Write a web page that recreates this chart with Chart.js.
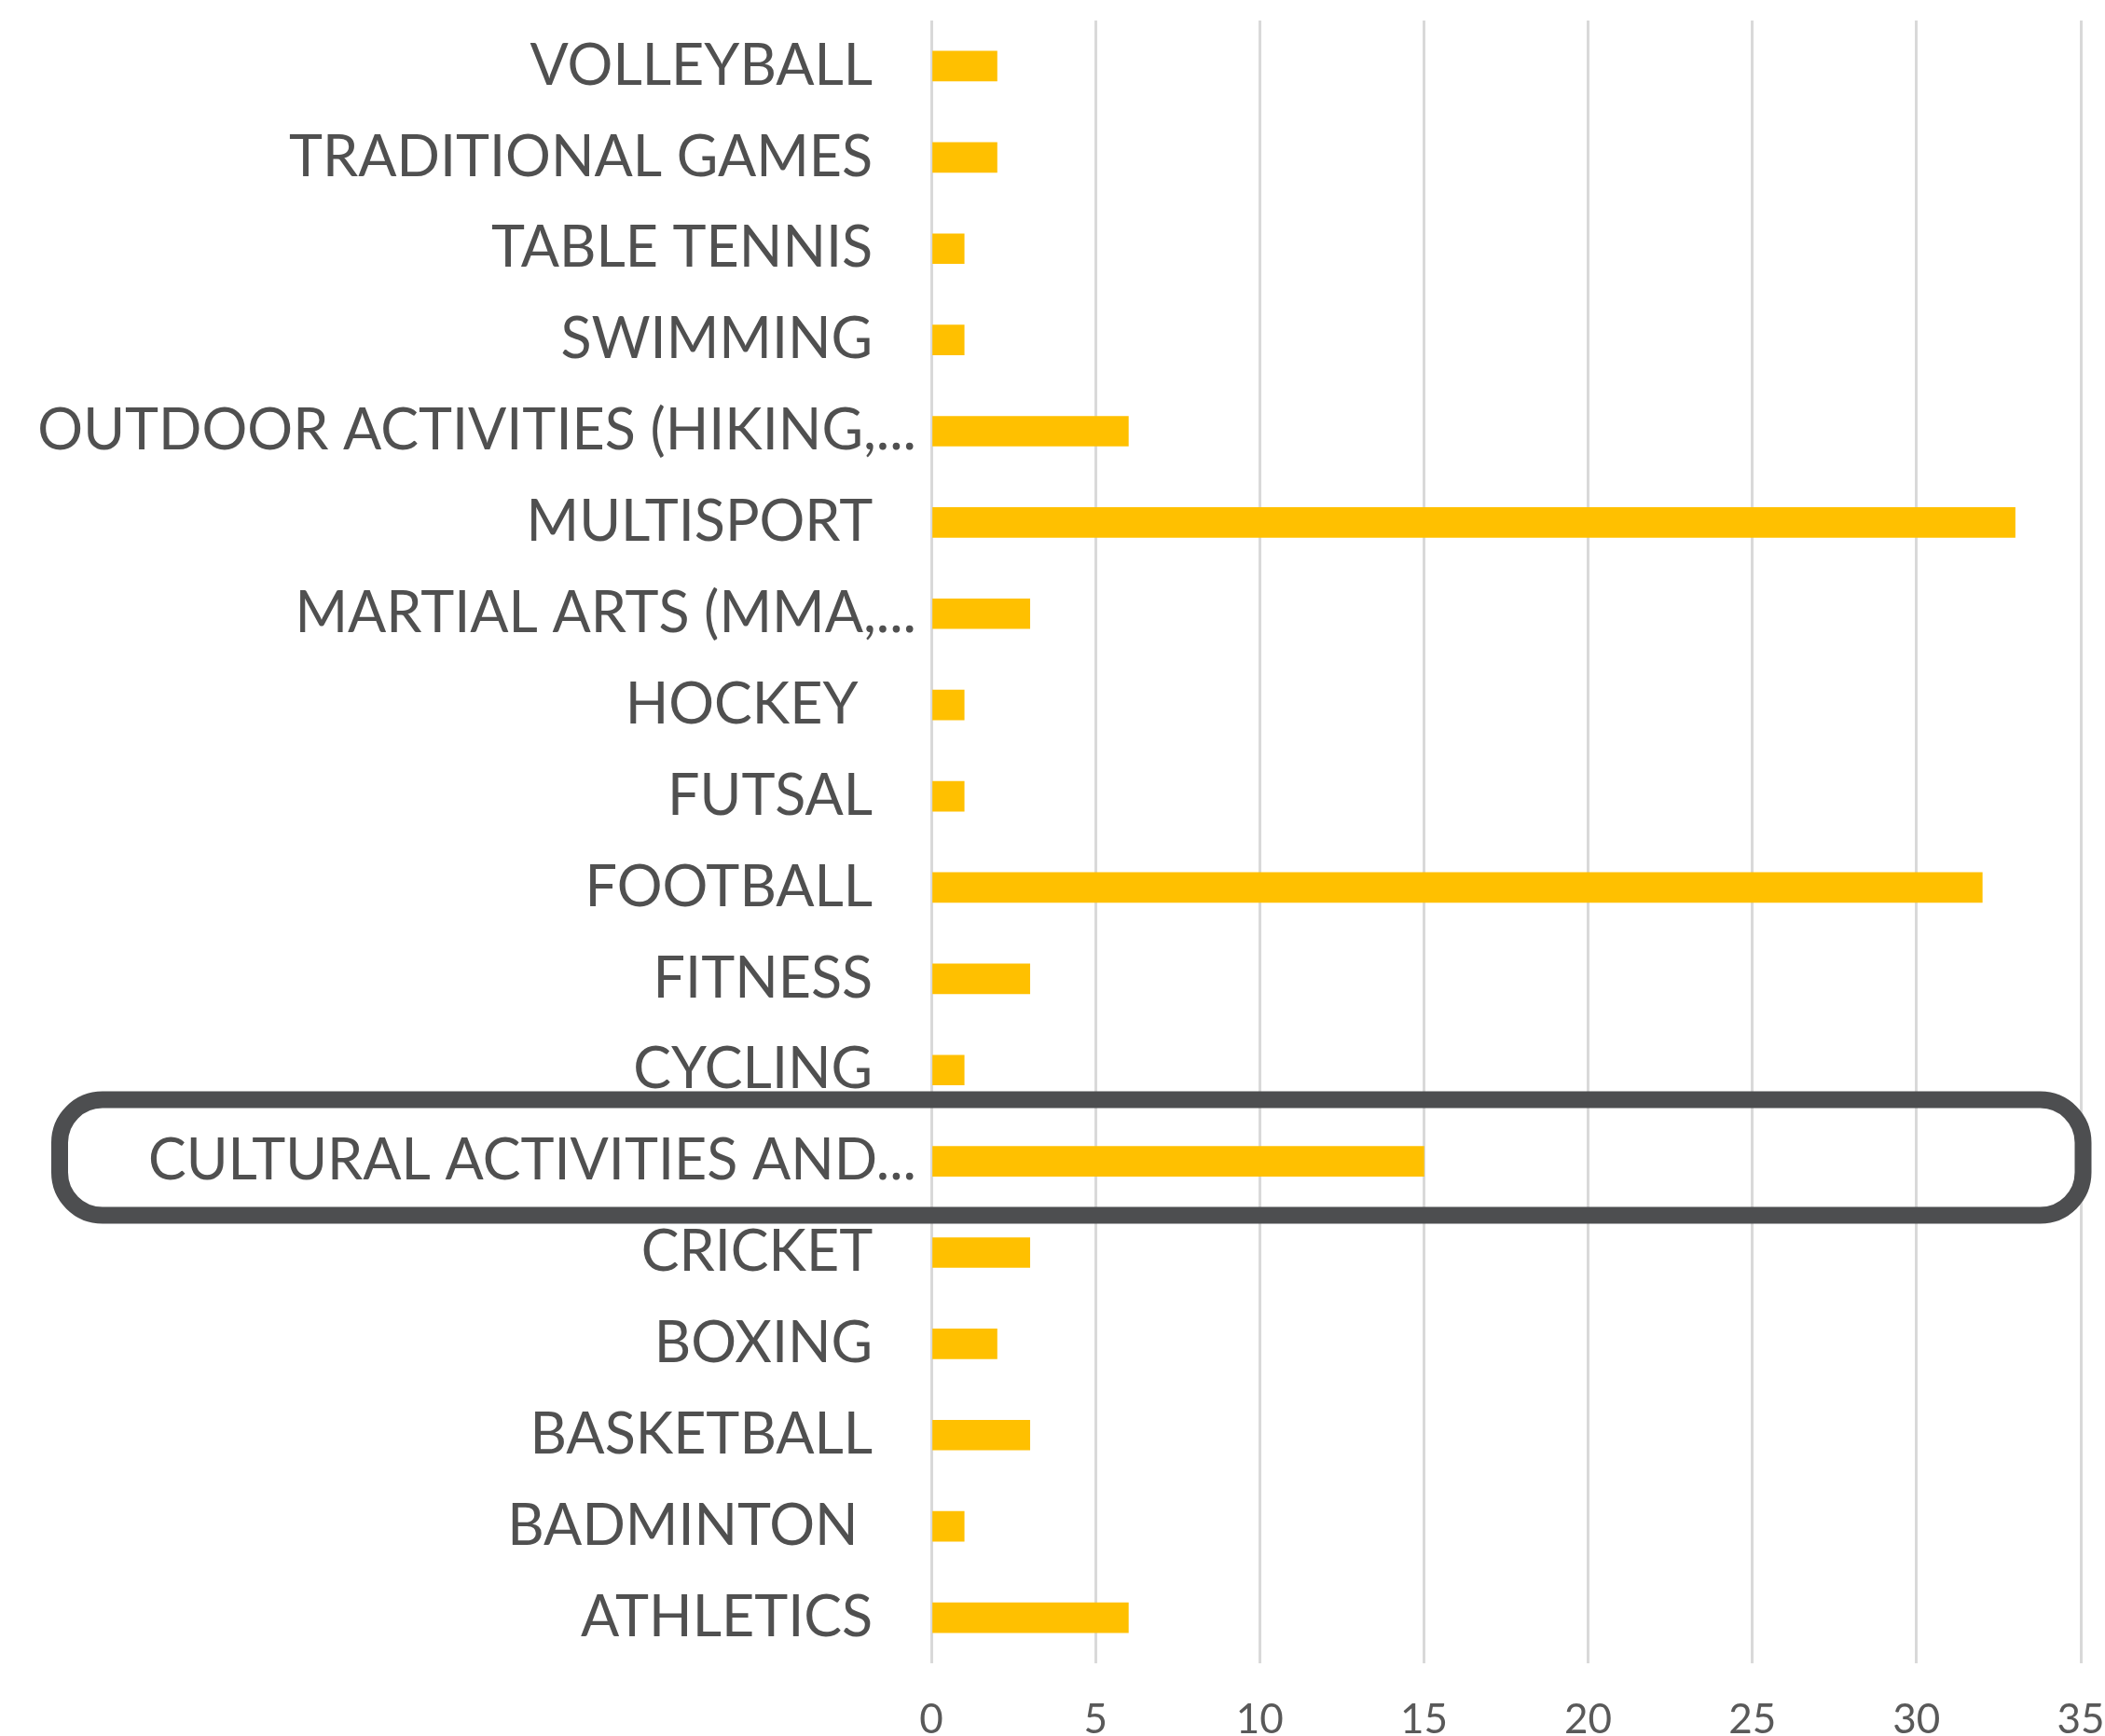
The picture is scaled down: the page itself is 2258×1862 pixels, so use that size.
<!DOCTYPE html>
<html>
<head>
<meta charset="utf-8">
<script src="https://cdn.jsdelivr.net/npm/chart.js@4/dist/chart.umd.min.js"></script>
<style>
html,body{margin:0;padding:0;background:#fff;}
#wrap{width:2258px;height:1862px;position:relative;}
</style>
</head>
<body>
<div id="wrap"><canvas id="c"></canvas></div>
<script>
const categories = [
  "VOLLEYBALL",
  "TRADITIONAL GAMES",
  "TABLE TENNIS",
  "SWIMMING",
  "OUTDOOR ACTIVITIES (HIKING,...",
  "MULTISPORT",
  "MARTIAL ARTS (MMA,...",
  "HOCKEY ",
  "FUTSAL",
  "FOOTBALL",
  "FITNESS",
  "CYCLING",
  "CULTURAL ACTIVITIES AND...",
  "CRICKET",
  "BOXING",
  "BASKETBALL",
  "BADMINTON ",
  "ATHLETICS"
];
const counts = [2, 2, 1, 1, 6, 33, 3, 1, 1, 32, 3, 1, 15, 3, 2, 3, 1, 6];
const xTicks = [0, 5, 10, 15, 20, 25, 30, 35];
const highlightedCategory = "CULTURAL ACTIVITIES AND...";

const highlightBox = {
  id: 'highlightBox',
  afterDraw(chart) {
    const y = chart.scales.y.getPixelForValue(categories.indexOf(highlightedCategory));
    const ctx = chart.ctx;
    ctx.save();
    ctx.strokeStyle = '#4d4e50';
    ctx.lineWidth = 18;
    ctx.beginPath();
    ctx.roundRect(64, y - 66, 2234.5 - 64, 124, 46);
    ctx.stroke();
    ctx.restore();
  }
};

new Chart(document.getElementById('c'), {
  type: 'bar',
  data: {
    labels: categories,
    datasets: [{
      data: counts,
      backgroundColor: '#FFC000',
      borderWidth: 0,
      barThickness: 32
    }]
  },
  options: {
    indexAxis: 'y',
    responsive: true,
    maintainAspectRatio: false,
    animation: false,
    layout: { padding: { top: 22, right: 26, left: 0, bottom: 0 } },
    plugins: { legend: { display: false }, tooltip: { enabled: false } },
    scales: {
      x: {
        min: 0,
        max: 35,
        afterBuildTicks(scale) { scale.ticks = xTicks.map(v => ({ value: v })); },
        afterFit(scale) {
          scale.height = 78;
          scale.paddingLeft = 0; scale.paddingRight = 0;
          scale.paddingTop = 0; scale.paddingBottom = 0;
        },
        grid: { color: '#d9d9d9', lineWidth: 3, drawTicks: false },
        border: { display: false },
        ticks: {
          padding: 34,
          maxRotation: 0,
          color: '#595959',
          font: { family: 'Lato', size: 44 }
        }
      },
      y: {
        afterFit(scale) {
          scale.width = 999;
          scale.paddingLeft = 0; scale.paddingRight = 0;
          scale.paddingTop = 0; scale.paddingBottom = 0;
        },
        grid: { display: false, drawTicks: false },
        border: { display: false },
        ticks: {
          autoSkip: false,
          padding: 16,
          color: '#505050',
          font: { family: 'Lato', size: 61 },
          callback(value) {
            const lab = categories[value];
            return lab.endsWith('...') ? lab : lab + '   ';
          }
        }
      }
    }
  },
  plugins: [highlightBox]
});
</script>
</body>
</html>
